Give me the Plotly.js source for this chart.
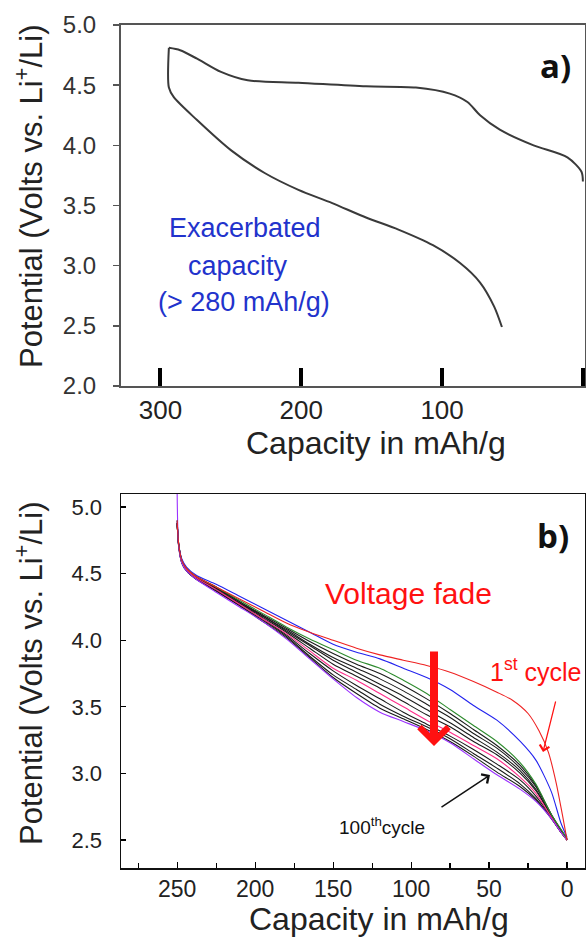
<!DOCTYPE html>
<html><head><meta charset="utf-8">
<script src="https://cdn.plot.ly/plotly-3.0.1.min.js"></script>
<style>html,body{margin:0;padding:0;background:#fff}#chart{width:586px;height:941px}</style>
</head><body><div id="chart"></div>
<script>
// ---------- Panel a : first cycle (charge + discharge) ----------
const capA_charge = [0, 1, 11, 35, 59, 73, 82, 94.5, 118.6, 154, 202, 238, 257, 274, 286, 294];
const vA_charge   = [3.70, 3.78, 3.90, 4.00, 4.13, 4.25, 4.36, 4.43, 4.48, 4.49, 4.52, 4.54, 4.61, 4.72, 4.79, 4.81];
const capA_discharge = [294, 294, 290.5, 274, 250, 226, 202, 178, 154, 131, 106.5, 87, 73, 63, 57.5];
const vA_discharge   = [4.81, 4.48, 4.40, 4.21, 3.96, 3.77, 3.63, 3.52, 3.40, 3.30, 3.17, 3.02, 2.86, 2.66, 2.49];
const ticksA_major = [300, 200, 100, 0];
const ticksA_minorBottom = [273, 218, 163, 109, 54];
const ticksA_minorTop = [256, 171, 84];

// ---------- Panel b : discharge curves, cycles 1 -> 100 ----------
const capB = [250, 249, 247, 244, 238, 225, 210, 195, 180, 165, 150, 135, 120, 105, 90, 75, 60, 45, 30, 20, 10, 4, 0];
const capB_cycle1 = [250, 249, 247, 244, 238, 225, 210, 195, 180, 165, 150, 135, 120, 105, 90, 75, 60, 45, 35, 25, 18, 12, 7, 3, 0];
const vB_cycle1  = [4.90,4.72,4.60,4.54,4.48,4.40,4.31,4.22,4.13,4.06,4.00,3.94,3.89,3.85,3.81,3.76,3.69,3.61,3.55,3.45,3.32,3.16,2.93,2.69,2.50];
const vB_blue    = [4.90,4.72,4.61,4.55,4.49,4.42,4.33,4.24,4.15,4.06,3.97,3.91,3.86,3.79,3.72,3.63,3.51,3.40,3.24,3.10,2.86,2.63,2.52];
const vB_green   = [4.90,4.72,4.60,4.54,4.48,4.40,4.30,4.20,4.10,4.01,3.93,3.85,3.79,3.70,3.60,3.48,3.36,3.24,3.08,2.92,2.69,2.58,2.51];
const vB_black1  = [4.88,4.72,4.60,4.54,4.48,4.40,4.29,4.19,4.09,3.99,3.90,3.82,3.75,3.66,3.56,3.45,3.33,3.21,3.06,2.91,2.69,2.58,2.51];
const vB_black2  = [4.88,4.72,4.60,4.54,4.47,4.39,4.29,4.18,4.08,3.97,3.87,3.79,3.71,3.62,3.52,3.42,3.30,3.19,3.04,2.90,2.69,2.57,2.51];
const vB_black3  = [4.88,4.71,4.59,4.53,4.47,4.39,4.28,4.18,4.07,3.96,3.85,3.76,3.67,3.58,3.48,3.38,3.27,3.16,3.02,2.88,2.68,2.57,2.50];
const vB_black4  = [4.88,4.71,4.59,4.53,4.47,4.38,4.28,4.17,4.06,3.94,3.82,3.73,3.64,3.54,3.44,3.35,3.24,3.14,3.00,2.87,2.68,2.56,2.50];
const vB_pink    = [4.88,4.71,4.59,4.53,4.47,4.38,4.27,4.16,4.05,3.92,3.79,3.70,3.60,3.50,3.40,3.31,3.21,3.11,2.97,2.85,2.67,2.56,2.50];
const vB_black5  = [4.88,4.71,4.59,4.53,4.47,4.38,4.27,4.16,4.04,3.90,3.77,3.66,3.56,3.46,3.37,3.28,3.18,3.07,2.95,2.83,2.67,2.56,2.50];
const vB_black6  = [4.88,4.71,4.58,4.52,4.46,4.37,4.26,4.15,4.03,3.88,3.74,3.63,3.52,3.43,3.35,3.26,3.15,3.04,2.92,2.81,2.66,2.56,2.50];
const vB_black7  = [4.88,4.70,4.58,4.52,4.46,4.37,4.26,4.14,4.02,3.87,3.72,3.60,3.49,3.41,3.33,3.24,3.13,3.01,2.90,2.80,2.66,2.56,2.50];
const vB_cycle100= [5.10,4.70,4.58,4.52,4.46,4.36,4.25,4.14,4.01,3.86,3.71,3.57,3.46,3.39,3.32,3.23,3.11,2.99,2.88,2.79,2.66,2.56,2.50];

const W = 586, H = 941;
const px = x => x / W;
const py = y => 1 - y / H;
const SANS = '"Liberation Sans", Arial, sans-serif';
const BOLD = '"Open Sans", "Liberation Sans", sans-serif';

const lineA = {color: '#3a3a3a', width: 2, shape: 'spline', smoothing: 0.8};
const traces = [
  {x: capA_charge, y: vA_charge, xaxis: 'x', yaxis: 'y', mode: 'lines', line: lineA, hoverinfo: 'skip'},
  {x: capA_discharge, y: vA_discharge, xaxis: 'x', yaxis: 'y', mode: 'lines', line: lineA, hoverinfo: 'skip'}
];
const bSeries = [
  [capB, vB_black1, '#1a1a1a'], [capB, vB_black2, '#1a1a1a'], [capB, vB_black3, '#1a1a1a'], [capB, vB_black4, '#1a1a1a'],
  [capB, vB_black5, '#1a1a1a'], [capB, vB_black6, '#1a1a1a'], [capB, vB_black7, '#1a1a1a'],
  [capB, vB_pink, '#ff2d8a'], [capB, vB_cycle100, '#9b30ff'], [capB, vB_green, '#2e8b2e'],
  [capB, vB_blue, '#2222ee'], [capB_cycle1, vB_cycle1, '#ee2222']
];
bSeries.forEach(([cx, v, c]) => traces.push({
  x: cx, y: v, xaxis: 'x2', yaxis: 'y2', mode: 'lines',
  line: {color: c, width: 1.1, shape: 'spline', smoothing: 0.7}, hoverinfo: 'skip'
}));

const domAx = [px(121), px(585)];
const domAy = [py(386), py(25)];
const domBx = [px(121), px(585)];
const domBy = [py(868), py(494)];

const layout = {
  width: W, height: H, margin: {l: 0, r: 0, t: 0, b: 0},
  paper_bgcolor: '#fff', plot_bgcolor: '#fff', showlegend: false,
  xaxis: {domain: domAx, anchor: 'y', range: [328, -1.5], tickvals: ticksA_major,
    ticks: 'inside', ticklen: 18, tickwidth: 4, tickcolor: '#000',
    showline: true, mirror: true, linecolor: '#555', linewidth: 2, showgrid: false, zeroline: false,
    tickfont: {family: SANS, size: 26, color: '#222'}, ticklabelstandoff: 0},
  xaxis3: {overlaying: 'x', anchor: 'y', range: [328, -1.5], tickvals: ticksA_minorBottom,
    ticks: 'outside', ticklen: 4, tickwidth: 1.5, tickcolor: '#555', showticklabels: false,
    showline: false, showgrid: false, zeroline: false},
  xaxis4: {overlaying: 'x', anchor: 'y', side: 'top', range: [328, -1.5], tickvals: ticksA_minorTop,
    ticks: 'outside', ticklen: 6, tickwidth: 1.5, tickcolor: '#555', showticklabels: false,
    showline: false, showgrid: false, zeroline: false},
  yaxis: {domain: domAy, anchor: 'x', range: [2, 5], dtick: 0.5, tick0: 2, tickformat: '.1f',
    ticks: 'outside', ticklen: 6, tickwidth: 1.5, tickcolor: '#555',
    showline: true, mirror: true, linecolor: '#555', linewidth: 2, showgrid: false, zeroline: false,
    tickfont: {family: SANS, size: 24, color: '#333'}, ticklabelstandoff: 12},
  xaxis2: {domain: domBx, anchor: 'y2', range: [286, -11.5], dtick: 50, tick0: 0,
    ticks: 'inside', ticklen: 6, tickwidth: 1.2, tickcolor: '#000',
    minor: {dtick: 25, tick0: 0, ticks: 'inside', ticklen: 5, tickcolor: '#000'},
    showline: true, mirror: true, linecolor: '#111', linewidth: 1.5, showgrid: false, zeroline: false,
    tickfont: {family: SANS, size: 23, color: '#222'}, ticklabelstandoff: 0},
  yaxis2: {domain: domBy, anchor: 'x2', range: [2.29, 5.098], dtick: 0.5, tick0: 2.5, tickformat: '.1f',
    ticks: 'inside', ticklen: 5, tickwidth: 1.2, tickcolor: '#000',
    showline: true, mirror: true, linecolor: '#111', linewidth: 1.5, showgrid: false, zeroline: false,
    tickfont: {family: SANS, size: 22, color: '#222'}, ticklabelstandoff: 13},
  annotations: [
    {xref: 'paper', yref: 'paper', x: px(29), y: py(196), text: 'Potential (Volts vs. Li<sup>+</sup>/Li)',
      textangle: -90, showarrow: false, font: {family: SANS, size: 31, color: '#222'}, xanchor: 'center', yanchor: 'middle'},
    {xref: 'paper', yref: 'paper', x: px(29), y: py(673), text: 'Potential (Volts vs. Li<sup>+</sup>/Li)',
      textangle: -90, showarrow: false, font: {family: SANS, size: 31, color: '#222'}, xanchor: 'center', yanchor: 'middle'},
    {xref: 'paper', yref: 'paper', x: px(376), y: py(443), text: 'Capacity in mAh/g',
      showarrow: false, font: {family: SANS, size: 32, color: '#222'}, xanchor: 'center', yanchor: 'middle'},
    {xref: 'paper', yref: 'paper', x: px(379), y: py(919), text: 'Capacity in mAh/g',
      showarrow: false, font: {family: SANS, size: 32, color: '#222'}, xanchor: 'center', yanchor: 'middle'},
    {xref: 'paper', yref: 'paper', x: px(555), y: py(66), text: '<b>a)</b>',
      showarrow: false, font: {family: BOLD, size: 33, color: '#111'}, xanchor: 'center', yanchor: 'middle'},
    {xref: 'paper', yref: 'paper', x: px(553), y: py(535), text: '<b>b)</b>',
      showarrow: false, font: {family: BOLD, size: 33, color: '#111'}, xanchor: 'center', yanchor: 'middle'},
    {xref: 'paper', yref: 'paper', x: px(245), y: py(228), text: 'Exacerbated',
      showarrow: false, font: {family: SANS, size: 27, color: '#2233cc'}, xanchor: 'center', yanchor: 'middle'},
    {xref: 'paper', yref: 'paper', x: px(238), y: py(266), text: 'capacity',
      showarrow: false, font: {family: SANS, size: 27, color: '#2233cc'}, xanchor: 'center', yanchor: 'middle'},
    {xref: 'paper', yref: 'paper', x: px(244), y: py(302), text: '(&gt; 280 mAh/g)',
      showarrow: false, font: {family: SANS, size: 27, color: '#2233cc'}, xanchor: 'center', yanchor: 'middle'},
    {xref: 'paper', yref: 'paper', x: px(409), y: py(593), text: 'Voltage fade',
      showarrow: false, font: {family: SANS, size: 30, color: '#ff1111'}, xanchor: 'center', yanchor: 'middle'},
    {xref: 'paper', yref: 'paper', x: px(535), y: py(670), text: '1<sup>st</sup> cycle',
      showarrow: false, font: {family: SANS, size: 25, color: '#ff1111'}, xanchor: 'center', yanchor: 'middle'},
    {xref: 'paper', yref: 'paper', x: px(382), y: py(826), text: '100<sup>th</sup>cycle',
      showarrow: false, font: {family: SANS, size: 19, color: '#111'}, xanchor: 'center', yanchor: 'middle'},
    // arrows
    {xref: 'paper', yref: 'paper', x: px(543), y: py(752), ax: 13, ay: -52, text: '', showarrow: true,
      arrowhead: 4, arrowsize: 1.6, arrowwidth: 1.2, arrowcolor: '#ff1111'},
    {xref: 'paper', yref: 'paper', x: px(434), y: py(746), ax: 0, ay: -96, text: '', showarrow: true,
      arrowhead: 4, arrowsize: 0.7, arrowwidth: 8, arrowcolor: '#ff1111'},
    {xref: 'paper', yref: 'paper', x: px(490), y: py(775), ax: -50, ay: 33, text: '', showarrow: true,
      arrowhead: 4, arrowsize: 1.4, arrowwidth: 1.5, arrowcolor: '#111'}
  ]
};
Plotly.newPlot('chart', traces, layout, {staticPlot: true, displayModeBar: false});
</script></body></html>
